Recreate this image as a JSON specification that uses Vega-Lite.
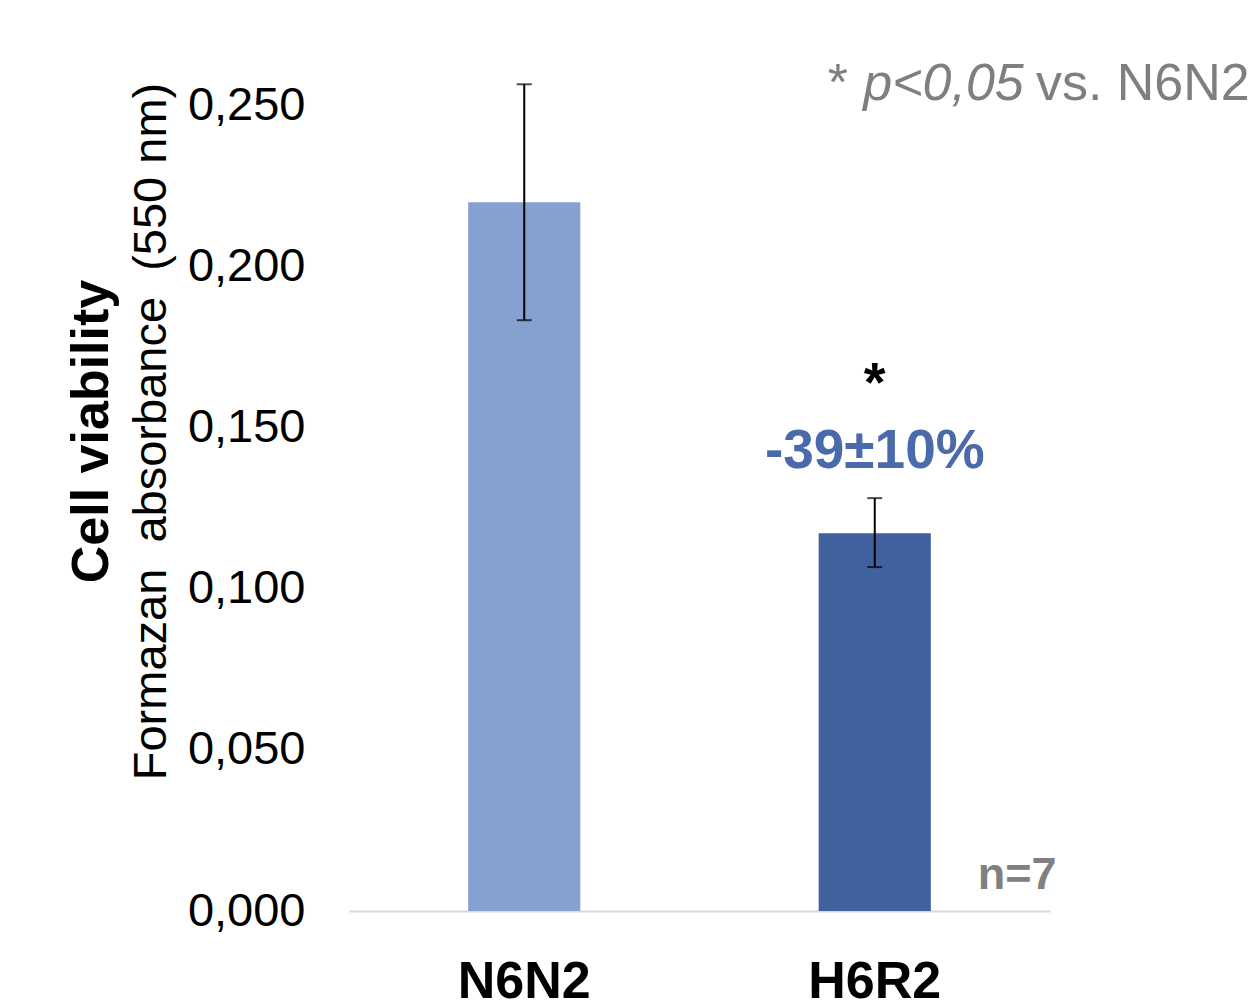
{
  "$schema": "https://vega.github.io/schema/vega-lite/v6.json",
  "autosize": "none",
  "width": 701,
  "height": 838,
  "padding": {"left": 349, "top": 73, "right": 209, "bottom": 96},
  "background": "white",
  "config": {"view": {"stroke": null}, "font": "Liberation Sans"},
  "datasets": {
    "bars": [
      {"group": "N6N2", "mean": 0.2199, "lo": 0.1833, "hi": 0.2565},
      {"group": "H6R2", "mean": 0.1172, "lo": 0.1067, "hi": 0.1281}
    ],
    "notes": [
      {"group": "H6R2", "y": 0.1582, "label": "*"},
      {"group": "H6R2", "y": 0.1374, "label": "-39±10%"}
    ]
  },
  "encoding": {
    "x": {
      "field": "group",
      "type": "nominal",
      "sort": ["N6N2", "H6R2"],
      "scale": {"paddingInner": 0.68, "paddingOuter": 0.34},
      "axis": {
        "title": null,
        "labelAngle": 0,
        "labelFontSize": 52,
        "labelFontWeight": "bold",
        "labelColor": "#000000",
        "labelBaseline": "alphabetic",
        "labelPadding": 86,
        "ticks": false,
        "tickSize": 0,
        "domainColor": "#d9d9d9",
        "domainWidth": 2
      }
    }
  },
  "layer": [
    {
      "data": {"name": "bars"},
      "mark": {"type": "bar"},
      "encoding": {
        "y": {
          "field": "mean",
          "type": "quantitative",
          "scale": {"domain": [0, 0.26], "nice": false},
          "axis": {
            "orient": "left",
            "values": [0, 0.05, 0.1, 0.15, 0.2, 0.25],
            "labelExpr": "replace(format(datum.value, '.3f'), '.', ',')",
            "labelFontSize": 47,
            "labelColor": "#000000",
            "labelPadding": 44,
            "ticks": false,
            "tickSize": 0,
            "domain": false,
            "grid": false,
            "title": "Formazan\u00a0 absorbance\u00a0 (550 nm)",
            "titleFontSize": 47,
            "titleFontWeight": "normal",
            "titleColor": "#000000",
            "titleAngle": -90,
            "titleAlign": "center",
            "titleBaseline": "alphabetic",
            "titleX": -184,
            "titleY": 358
          }
        },
        "color": {
          "field": "group",
          "type": "nominal",
          "scale": {"domain": ["N6N2", "H6R2"], "range": ["#86a0cf", "#41619e"]},
          "legend": null
        }
      }
    },
    {
      "data": {"name": "bars"},
      "mark": {"type": "rule", "color": "#000000", "strokeWidth": 2},
      "encoding": {
        "y": {
          "field": "lo",
          "type": "quantitative",
          "axis": {
            "orient": "left",
            "labels": false,
            "ticks": false,
            "domain": false,
            "grid": false,
            "title": "Cell viability",
            "titleFontSize": 52,
            "titleFontWeight": "bold",
            "titleColor": "#000000",
            "titleAngle": -90,
            "titleAlign": "center",
            "titleBaseline": "alphabetic",
            "titleX": -242,
            "titleY": 358
          }
        },
        "y2": {"field": "hi"}
      }
    },
    {
      "data": {"name": "bars"},
      "mark": {"type": "tick", "color": "#000000", "size": 15, "thickness": 2, "orient": "horizontal"},
      "encoding": {"y": {"field": "lo", "type": "quantitative", "axis": null}}
    },
    {
      "data": {"name": "bars"},
      "mark": {"type": "tick", "color": "#000000", "size": 15, "thickness": 2, "orient": "horizontal"},
      "encoding": {"y": {"field": "hi", "type": "quantitative", "axis": null}}
    },
    {
      "data": {"name": "notes"},
      "transform": [{"filter": "datum.label == '*'"}],
      "mark": {"type": "text", "fontSize": 56, "fontWeight": "bold", "color": "#000000", "align": "center", "baseline": "alphabetic"},
      "encoding": {"y": {"field": "y", "type": "quantitative", "axis": null}, "text": {"field": "label"}}
    },
    {
      "data": {"name": "notes"},
      "transform": [{"filter": "datum.label != '*'"}],
      "mark": {"type": "text", "fontSize": 55, "fontWeight": "bold", "color": "#4a6aab", "align": "center", "baseline": "alphabetic"},
      "encoding": {"y": {"field": "y", "type": "quantitative", "axis": null}, "text": {"field": "label"}}
    },
    {
      "data": {"values": [{"group": "H6R2", "y": 0.0068, "label": "n=7"}]},
      "mark": {"type": "text", "fontSize": 45, "fontWeight": "bold", "color": "#808080", "align": "left", "baseline": "alphabetic", "dx": 103},
      "encoding": {"y": {"field": "y", "type": "quantitative", "axis": null}, "text": {"field": "label"}}
    },
    {
      "data": {"values": [{"group": "H6R2", "y": 0.2515, "label": "*"}]},
      "mark": {"type": "text", "fontSize": 52, "color": "#7f7f7f", "align": "left", "baseline": "alphabetic", "dx": -47},
      "encoding": {"y": {"field": "y", "type": "quantitative", "axis": null}, "text": {"field": "label"}}
    },
    {
      "data": {"values": [{"group": "H6R2", "y": 0.2515, "label": "p<0,05"}]},
      "mark": {"type": "text", "fontSize": 52, "fontStyle": "italic", "color": "#7f7f7f", "align": "right", "baseline": "alphabetic", "dx": 149},
      "encoding": {"y": {"field": "y", "type": "quantitative", "axis": null}, "text": {"field": "label"}}
    },
    {
      "data": {"values": [{"group": "H6R2", "y": 0.2515, "label": "vs. N6N2"}]},
      "mark": {"type": "text", "fontSize": 52, "color": "#7f7f7f", "align": "right", "baseline": "alphabetic", "dx": 375},
      "encoding": {"y": {"field": "y", "type": "quantitative", "axis": null}, "text": {"field": "label"}}
    }
  ],
  "resolve": {"axis": {"y": "independent"}}
}
